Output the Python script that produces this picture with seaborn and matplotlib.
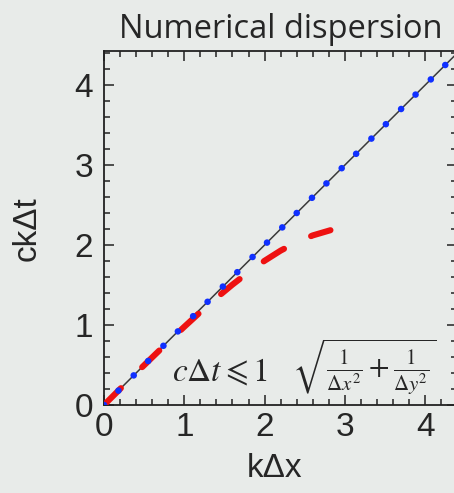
import matplotlib
matplotlib.use("Agg")
import matplotlib.pyplot as plt
import seaborn as sns
import pandas as pd
from matplotlib.ticker import MultipleLocator

# ---- data ----
exact_k = [0.0, 4.4]
exact_w = [0.0, 4.4]

dots_k = [0.0, 0.18, 0.37, 0.55, 0.74, 0.92, 1.11, 1.29, 1.48, 1.66, 1.85, 2.03,
          2.22, 2.40, 2.59, 2.77, 2.96, 3.14, 3.33, 3.51, 3.70, 3.88, 4.07, 4.25]
dots_w = [0.0, 0.18, 0.37, 0.55, 0.74, 0.92, 1.11, 1.29, 1.48, 1.66, 1.85, 2.03,
          2.22, 2.40, 2.59, 2.77, 2.96, 3.14, 3.33, 3.51, 3.70, 3.88, 4.07, 4.25]

num_k = [0.0, 0.2, 0.4, 0.6, 0.8, 1.0, 1.2, 1.4, 1.6, 1.8, 2.0, 2.2, 2.4, 2.6, 2.82]
num_w = [0.0, 0.20, 0.40, 0.595, 0.789, 0.978, 1.162, 1.338, 1.505, 1.660,
         1.803, 1.930, 2.035, 2.120, 2.185]

x_ticks = [0, 1, 2, 3, 4]
y_ticks = [0, 1, 2, 3, 4]

BG = "#e8ebe9"

sns.set_theme(style="ticks")
plt.rcParams["font.family"] = ["Liberation Sans", "DejaVu Sans"]
plt.rcParams["mathtext.fontset"] = "stix"

fig = plt.figure(figsize=(4.54, 4.93), dpi=100, facecolor=BG)
ax = fig.add_axes([104 / 454, 1 - 405 / 493, 4.4 * 80.3 / 454, 4.42 * 80 / 493])
ax.set_facecolor(BG)

df_exact = pd.DataFrame({"k": exact_k, "w": exact_w})
df_dots = pd.DataFrame({"k": dots_k, "w": dots_w})
df_num = pd.DataFrame({"k": num_k, "w": num_w})

sns.lineplot(data=df_exact, x="k", y="w", ax=ax, color="#3a3a3a", linewidth=1.1, zorder=2)
sns.lineplot(data=df_num, x="k", y="w", ax=ax, color="#ee1111", linewidth=4.4,
             linestyle=(0, (3.9, 4.9)), dash_capstyle="round", zorder=3)
sns.scatterplot(data=df_dots, x="k", y="w", ax=ax, color="#1030ff", s=22,
                edgecolor="none", zorder=4)

ax.set_xlim(0, 4.4)
ax.set_ylim(0, 4.42)
ax.set_xticks(x_ticks)
ax.set_yticks(y_ticks)
ax.xaxis.set_minor_locator(MultipleLocator(0.2))
ax.yaxis.set_minor_locator(MultipleLocator(0.2))
ax.tick_params(which="both", direction="in", top=True, right=True, color="#222222", width=1.1)
ax.tick_params(which="major", length=7.5, labelsize=24, pad=5)
ax.tick_params(which="minor", length=4)
ax.tick_params(axis="y", which="major", pad=8)
for s in ax.spines.values():
    s.set_color("#222222")
    s.set_linewidth(1.3)

ax.set_xlabel("kΔx", fontsize=24)
ax.set_ylabel("ckΔt", fontsize=24)
ax.xaxis.set_label_coords(0.483, -0.135)
ax.yaxis.set_label_coords(-0.175, 0.5)
ax.set_title("Numerical dispersion", fontsize=23.5, family=["Open Sans", "DejaVu Sans"], pad=10)

ax.text(0.85, 0.29, r"$c\Delta t \leqslant 1$", fontsize=24, ha="left", va="baseline", zorder=5)
ax.text(2.34, 0.09, r"$\sqrt{\frac{1}{\Delta x^2}+\frac{1}{\Delta y^2}}$", fontsize=21.5,
        ha="left", va="bottom", zorder=5)

fig.savefig("out.png", dpi=100, facecolor=BG)
